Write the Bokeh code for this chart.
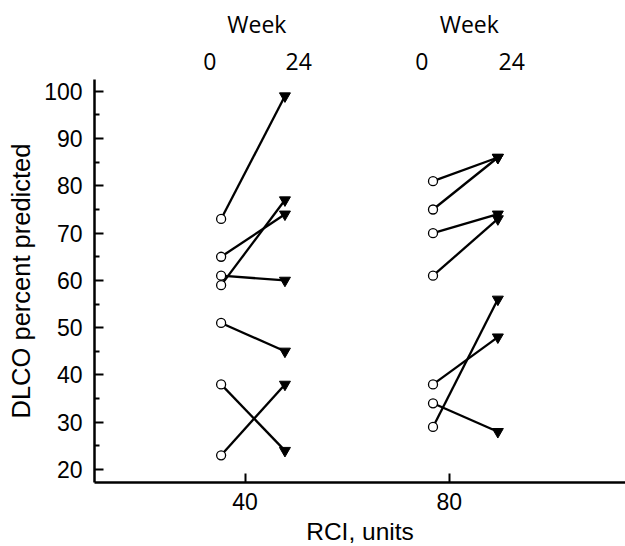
from bokeh.plotting import figure
from bokeh.models import FixedTicker, LinearAxis
from bokeh.embed import file_html
from bokeh.resources import INLINE

# ---- data ----
rci_ticks = [40, 80]
rci_tick_labels = ["40", "80"]
dlco_ticks = [20, 30, 40, 50, 60, 70, 80, 90, 100]
dlco_minor = [25, 35, 45, 55, 65, 75, 85, 95]
week_labels = ["0", "24"]
week_title = "Week"

# x positions (RCI units) of week-0 and week-24 columns for each group
group1_x = [35.3, 47.8]
group2_x = [76.8, 89.5]

# DLCO % predicted, week 0 -> week 24
group1_week0 = [73, 65, 59, 61, 51, 38, 23]
group1_week24 = [99, 74, 77, 60, 45, 24, 38]
group2_week0 = [81, 75, 70, 61, 38, 34, 29]
group2_week24 = [86, 86, 74, 73, 48, 28, 56]

p = figure(frame_width=531, frame_height=403, output_backend="svg",
           toolbar_location=None,
           x_range=(10.5, 114.5), y_range=(17.25, 102.5),
           min_border_left=94, min_border_right=0, min_border_top=79,
           min_border_bottom=0)
p.outline_line_color = None
p.xgrid.visible = False
p.ygrid.visible = False

bottom = p.below[0]
left = p.left[0]

week_pos = []
week_text = {}
title_pos = []
title_text = {}
for gx, w0, w24 in [(group1_x, group1_week0, group1_week24),
                    (group2_x, group2_week0, group2_week24)]:
    n = len(w0)
    x0 = [gx[0]] * n
    x1 = [gx[1]] * n
    p.segment(x0=x0, y0=w0, x1=x1, y1=w24, line_color="black", line_width=2.3)
    p.scatter(x=x0, y=w0, marker="circle", size=9, fill_color="white",
              line_color="black", line_width=1.3)
    p.scatter(x=x1, y=w24, marker="inverted_triangle", size=11,
              fill_color="black", line_color="black", line_width=1)
    lx0 = round(gx[0] - 2.2, 2)
    lx1 = round(gx[1] + 2.7, 2)
    week_pos += [lx0, lx1]
    week_text[lx0] = week_labels[0]
    week_text[lx1] = week_labels[1]
    c = round((lx0 + lx1) / 2 + 0.5, 2)
    title_pos.append(c)
    title_text[c] = week_title

# week header rows as extra axes above the frame
def header_axis(ticks, texts, standoff):
    ax = LinearAxis(ticker=FixedTicker(ticks=ticks, minor_ticks=[]),
                    major_label_overrides=texts)
    ax.axis_line_color = None
    ax.major_tick_line_color = None
    ax.minor_tick_line_color = None
    ax.major_label_text_font = "Open Sans"
    ax.major_label_text_font_size = "23px"
    ax.major_label_text_color = "black"
    ax.major_label_standoff = standoff
    return ax

p.add_layout(header_axis(week_pos, week_text, 4), "above")
p.add_layout(header_axis(title_pos, title_text, 4), "above")

# axes
bottom.ticker = FixedTicker(ticks=rci_ticks, minor_ticks=[])
bottom.major_label_overrides = {t: l for t, l in zip(rci_ticks, rci_tick_labels)}
left.ticker = FixedTicker(ticks=dlco_ticks, minor_ticks=dlco_minor)

for ax in (bottom, left):
    ax.axis_line_width = 2.5
    ax.axis_line_color = "black"
    ax.major_tick_line_color = "black"
    ax.major_tick_line_width = 2
    ax.major_tick_in = 9
    ax.major_tick_out = 0
    ax.minor_tick_line_color = "black"
    ax.minor_tick_line_width = 2
    ax.minor_tick_in = 5
    ax.minor_tick_out = 0
    ax.major_label_text_font = "Liberation Sans"
    ax.major_label_text_font_size = "23px"
    ax.major_label_text_color = "black"
    ax.axis_label_text_font = "Liberation Sans"
    ax.axis_label_text_font_size = "24.5px"
    ax.axis_label_text_font_style = "normal"
    ax.axis_label_text_color = "black"

bottom.axis_label = "RCI, units"
bottom.major_label_standoff = 10
bottom.axis_label_standoff = 5
left.axis_label = "DLCO percent predicted"
left.axis_label_text_font_size = "25.5px"
left.major_label_standoff = 12
left.axis_label_standoff = 6

open("out.html", "w").write(file_html(p, INLINE))
